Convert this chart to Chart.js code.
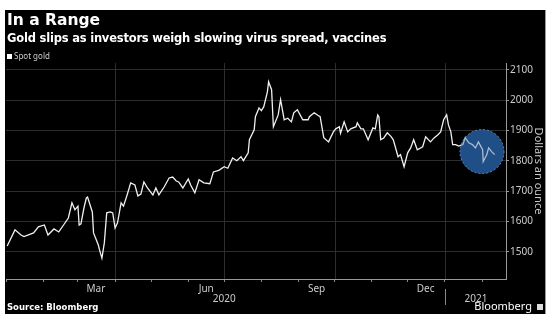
<!DOCTYPE html>
<html>
<head>
<meta charset="utf-8">
<script src="https://cdn.jsdelivr.net/npm/chart.js@4"></script>
<style>
  body { margin: 0; background: #fff; width: 554px; height: 323px; overflow: hidden; }
  #frame { position: absolute; left: 5px; top: 10px; width: 540px; height: 304px; background: #000; border-right: 1px solid #999; }
  #frame canvas { position: absolute; left: 0; top: 0; }
  .txt { position: absolute; color: #fff; font-family: "DejaVu Sans", sans-serif; white-space: nowrap; }
  #title { left: 2px; top: 1px; font-size: 15.5px; font-weight: bold; }
  #subtitle { left: 2px; top: 21px; font-size: 11.5px; font-weight: bold; letter-spacing: -0.2px; }
  #legend { left: 2px; top: 40px; font-size: 8px; color: #ccc; font-family: "Noto Sans", sans-serif; }
  #legend span { display: inline-block; width: 5px; height: 5px; background: #fff; margin-right: 2px; vertical-align: 0px; }
  #source { left: 2px; top: 292px; font-size: 8.5px; font-weight: bold; }
  #brand { right: 2px; top: 288px; font-size: 11px; font-family: "Noto Sans", sans-serif; }
  #brand span { display: inline-block; width: 6px; height: 6px; background: #ddd; margin-left: 5px; }
</style>
</head>
<body>
<div id="frame">
  <canvas id="grafico" width="540" height="304"></canvas>
  <div class="txt" id="title">In a Range</div>
  <div class="txt" id="subtitle">Gold slips as investors weigh slowing virus spread, vaccines</div>
  <div class="txt" id="legend"><span></span>Spot gold</div>
  <div class="txt" id="source">Source: Bloomberg</div>
  <div class="txt" id="brand">Bloomberg<span></span></div>
</div>
<script>
// dias desde 1 jan 2020
const dias = [1,7.5,12.5,15,23,27,32,35,40,44,48,52,55,57.5,60,61,62.5,65,67,68,
  72,73,77,78,80,82,84,87,89,91,93,96,98,101,104,107.5,110,112.5,115,118,
  122.5,125,127.5,132,136,139,142,144,147.5,152,154,157.5,161,165,170,173,177.5,182,185,189,
  192.5,196,198,202,203,207,208,211,213,215,218,219,221.5,223,227,229,232,235,238,240,
  243,247.5,252,253,257,260,262,265,269,273,275,278,279,282,285,287.5,292,293,296,298,
  302,306,308,310,311,312.5,315,318,321,323,327,329,332,335,337.5,340,343,347.5,350,354,
  357,360,362.5,365,367.5,369,371,372.5,375,377.5,381,383,386,389,391.5,394,397.5,398,401,402.5,
  405,407.5];
const spotGold = [1519,1572,1555,1550,1562,1582,1588,1555,1575,1565,1588,1611,1661,1638,1650,1588,1592,1644,1677,1680,
  1631,1562,1522,1506,1479,1529,1628,1631,1628,1578,1595,1661,1650,1687,1727,1720,1684,1690,1730,1710,
  1687,1710,1687,1714,1743,1746,1733,1730,1710,1740,1720,1694,1737,1727,1724,1763,1768,1780,1775,1809,
  1800,1813,1800,1826,1869,1902,1945,1974,1965,1978,2027,2060,2034,1912,1951,2001,1935,1940,1928,1958,
  1968,1935,1935,1945,1958,1950,1945,1876,1862,1895,1905,1912,1890,1928,1895,1905,1912,1925,1905,1905,
  1869,1908,1905,1951,1945,1869,1875,1892,1880,1869,1813,1820,1780,1826,1842,1869,1836,1846,1879,1862,
  1875,1885,1895,1935,1951,1918,1895,1853,1853,1848,1853,1876,1859,1853,1842,1862,1836,1797,1820,1842,
  1830,1820];

const inicioMes = [0,31,60,91,121,152,182,213,244,274,305,335,366,397];
const nomesMes = ['','','Mar','','','Jun','','','Sep','','','Dec','',''];
const inicioTrimestre = [91,182,274,366];
const anos = [{label:'2020', dia:182}, {label:'2021', dia:392}];
const yTicks = [1500,1600,1700,1800,1900,2000,2100];
const destaque = {dia: 397, valor: 1830};

const pontos = dias.map((d, i) => ({x: d, y: spotGold[i]}));

const extras = {
  id: 'extras',
  beforeDatasetsDraw(chart) {
    const c = chart.ctx, x = chart.scales.x, y = chart.scales.y;
    // linhas verticais dos trimestres
    c.save();
    c.strokeStyle = '#2d2d2d';
    c.lineWidth = 1;
    inicioTrimestre.forEach(d => {
      const px = Math.round(x.getPixelForValue(d)) + 0.5;
      c.beginPath();
      c.moveTo(px, chart.chartArea.top);
      c.lineTo(px, chart.chartArea.bottom);
      c.stroke();
    });
    c.beginPath();
    c.arc(x.getPixelForValue(destaque.dia), y.getPixelForValue(destaque.valor), 22, 0, Math.PI * 2);
    c.fillStyle = '#1d4a80';
    c.fill();
    c.restore();
  },
  afterDatasetsDraw(chart) {
    const c = chart.ctx, x = chart.scales.x, y = chart.scales.y;
    const cx = x.getPixelForValue(destaque.dia), cy = y.getPixelForValue(destaque.valor);
    c.save();
    c.beginPath();
    c.arc(cx, cy, 22, 0, Math.PI * 2);
    c.fillStyle = 'rgba(40,90,150,0.35)';
    c.fill();
    c.setLineDash([2, 2]);
    c.strokeStyle = '#5b88c2';
    c.lineWidth = 1;
    c.stroke();
    c.restore();
  },
  afterDraw(chart) {
    const c = chart.ctx, x = chart.scales.x;
    c.save();
    c.fillStyle = '#cccccc';
    c.font = '10px "Noto Sans"';
    c.textAlign = 'center';
    c.textBaseline = 'middle';
    anos.forEach(a => c.fillText(a.label, x.getPixelForValue(a.dia), 289));
    const sx = Math.round(x.getPixelForValue(366)) + 0.5;
    c.strokeStyle = '#888';
    c.beginPath();
    c.moveTo(sx, 279);
    c.lineTo(sx, 295);
    c.stroke();
    c.restore();
  }
};

new Chart(document.getElementById('grafico'), {
  type: 'line',
  data: {
    datasets: [{
      label: 'Spot gold',
      data: pontos,
      borderColor: '#f0f0f0',
      borderWidth: 1.3,
      pointRadius: 0,
      tension: 0
    }]
  },
  options: {
    responsive: false,
    animation: false,
    layout: { padding: { top: 53, left: 0, right: 0, bottom: 0 } },
    plugins: { legend: { display: false }, tooltip: { enabled: false } },
    scales: {
      x: {
        type: 'linear',
        min: 0,
        max: 417,
        afterBuildTicks: s => { s.ticks = inicioMes.map(v => ({value: v})); },
        afterFit: s => { s.height = 35; },
        ticks: {
          autoSkip: false,
          maxRotation: 0,
          labelOffset: 18,
          padding: 1,
          color: '#cccccc',
          font: { family: 'Noto Sans', size: 10 },
          callback: (v, i) => nomesMes[i]
        },
        grid: {
          drawOnChartArea: false,
          tickColor: '#888',
          tickLength: 3
        },
        border: { color: '#999' }
      },
      y: {
        position: 'right',
        min: 1410,
        max: 2122,
        afterBuildTicks: s => { s.ticks = yTicks.map(v => ({value: v})); },
        afterFit: s => { s.width = 39; },
        ticks: {
          padding: 1,
          color: '#cccccc',
          font: { family: 'Noto Sans', size: 10 },
          callback: v => String(v)
        },
        grid: { color: '#2d2d2d', tickColor: '#999', tickLength: 3 },
        border: { color: '#999' },
        title: {
          display: true,
          text: 'Dollars an ounce',
          color: '#cccccc',
          font: { family: 'Noto Sans', size: 11 },
          padding: { top: 0, bottom: 2 }
        }
      }
    }
  },
  plugins: [extras]
});
</script>
</body>
</html>
